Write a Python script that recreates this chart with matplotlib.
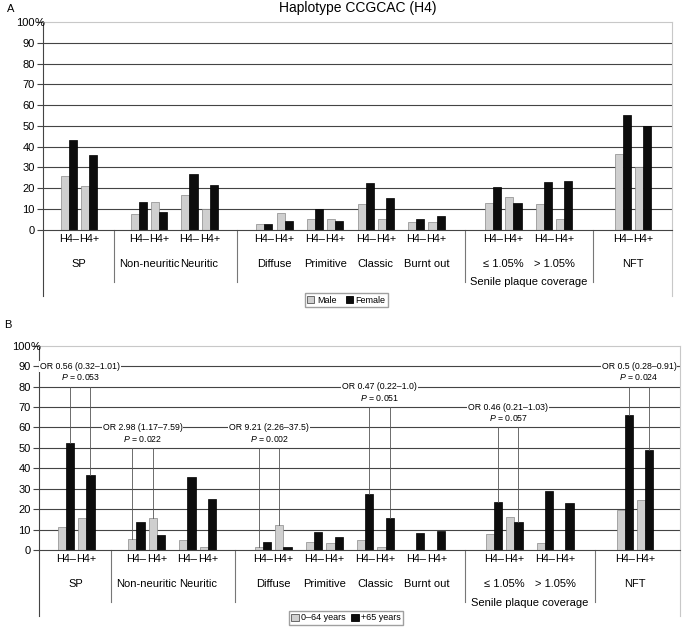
import numpy as np
import matplotlib
matplotlib.use("Agg")
import matplotlib.pyplot as plt
from matplotlib.patches import Patch
from matplotlib.transforms import ScaledTranslation

plt.rcParams["font.family"] = ["Liberation Sans", "DejaVu Sans"]
plt.rcParams["mathtext.fontset"] = "custom"
plt.rcParams["mathtext.it"] = "Liberation Sans:italic"
plt.rcParams["mathtext.rm"] = "Liberation Sans"

# category structure: groups -> subgroups, each with H4- / H4+
groups = [["SP"], ["Non-neuritic", "Neuritic"],
          ["Diffuse", "Primitive", "Classic", "Burnt out"],
          ["≤ 1.05%", "> 1.05%"], ["NFT"]]
group_gaps = [2.45, 2.7, 2.8, 2.9]   # spacing H4+ -> next group's H4-
haplo = ["H4–", "H4+"]
top_group_label = {3: "Senile plaque coverage"}

# panel A (percent), order: SP-, SP+, NonN-, NonN+, Neur-, Neur+, Diff-, Diff+, Prim-, Prim+,
# Class-, Class+, Burnt-, Burnt+, <=-, <=+, >-, >+, NFT-, NFT+
male = [26.0, 21.2, 7.5, 13.6, 16.7, 10.0, 2.7, 8.0, 5.0, 5.1,
        12.5, 5.1, 4.0, 4.0, 12.8, 15.9, 12.5, 5.1, 36.6, 30.0]
female = [43.0, 36.1, 13.3, 8.5, 27.1, 21.8, 3.0, 4.3, 10.0, 4.3,
          22.6, 15.2, 5.0, 6.6, 20.4, 12.7, 22.8, 23.6, 55.4, 49.8]

# panel B (percent)
young = [11.1, 15.8, 5.4, 15.8, 4.9, 1.6, 1.5, 12.4, 3.9, 3.3,
         4.9, 1.6, 0.0, 0.0, 7.7, 16.0, 3.4, 0.0, 19.6, 24.5]
old = [52.2, 36.9, 14.0, 7.5, 35.9, 25.0, 4.2, 1.6, 9.1, 6.4,
       27.6, 15.8, 8.6, 9.5, 23.5, 13.9, 28.9, 23.2, 65.9, 49.0]

# odds-ratio annotations in panel B
ann_cat = ["SP", "Non-neuritic", "Diffuse", "Classic", "≤ 1.05%", "NFT"]
ann_or = ["OR 0.56 (0.32–1.01)", "OR 2.98 (1.17–7.59)", "OR 9.21 (2.26–37.5)",
          "OR 0.47 (0.22–1.0)", "OR 0.46 (0.21–1.03)", "OR 0.5 (0.28–0.91)"]
ann_p = ["0.053", "0.022", "0.002", "0.051", "0.057", "0.024"]
ann_level = [90, 60, 60, 80, 70, 90]
ann_series = ["old", "young", "young", "old", "old", "old"]

# positions
pos, sub_names, sub_pos, group_sep, group_span = [], [], [], [], []
x = 0.0
for gi, g in enumerate(groups):
    start = x
    for si, s in enumerate(g):
        pos += [x, x + 1]
        sub_names.append(s)
        sub_pos.append(x + 0.5)
        x += 2.5 if si < len(g) - 1 else 1
    group_span.append((start, x))
    if gi < len(group_gaps):
        group_sep.append(x + group_gaps[gi] / 2)
        x += group_gaps[gi]
pos = np.array(pos)
w = 0.4
GRAY = "#cfcfcf"
DARK = "#444444"

fig = plt.figure(figsize=(6.83, 6.28), dpi=100)


def draw_panel(ax, s1, s2, xlim, lab_y):
    ax.set_xlim(*xlim)
    ax.set_ylim(0, 100)
    for v in range(10, 100, 10):
        ax.axhline(v, color=DARK, lw=0.8, zorder=0)
    ax.bar(pos - w / 2, s1, w, color=GRAY, edgecolor="#8a8a8a", lw=0.5, zorder=2)
    ax.bar(pos + w / 2, s2, w, color="#0d0d0d", edgecolor="black", lw=0.5, zorder=2)
    ax.spines["top"].set_color("#c8c8c8")
    ax.spines["left"].set_color(DARK)
    ax.spines["bottom"].set_color(DARK)
    ax.spines["right"].set_visible(False)
    ax.set_yticks(range(0, 101, 10))
    ax.set_yticklabels([str(v) for v in range(0, 100, 10)] + ["100"])
    ax.tick_params(axis="y", length=4, color=DARK, labelsize=8, pad=2)
    # "%" hangs after the 100 label, over the tick
    pct_tr = ax.get_yaxis_transform() + ScaledTranslation(-6 / 72, 0, fig.dpi_scale_trans)
    ax.text(0, 100, "%", transform=pct_tr, ha="left", va="center_baseline",
            fontsize=8)
    ax.set_xticks(pos)
    ax.set_xticklabels(haplo * (len(pos) // 2), fontsize=7.8)
    ax.tick_params(axis="x", length=0, pad=3)
    l1, l2, l3, sep_end, ax_end = lab_y
    for name, p in zip(sub_names, sub_pos):
        ax.text(p, l2, name, ha="center", va="center", fontsize=8, clip_on=False)
    for gi, lab in top_group_label.items():
        a, b = group_span[gi]
        ax.text((a + b) / 2, l3, lab, ha="center", va="center", fontsize=8,
                clip_on=False)
    for sx in group_sep:
        ax.plot([sx, sx], [0, sep_end], color="#777777", lw=0.8, clip_on=False)
    ax.plot([xlim[0], xlim[0]], [0, ax_end], color=DARK, lw=0.8, clip_on=False)
    ax.plot([xlim[1], xlim[1]], [100, ax_end], color="#c8c8c8", lw=0.8,
            clip_on=False)


axA = fig.add_axes([0.063, 0.634, 0.921, 0.331])
draw_panel(axA, male, female, (-1.28, 29.78), (-4.8, -16.3, -25, -25, -31.7))
axA.set_title("Haplotype CCGCAC (H4)", fontsize=10, pad=7)
fig.text(0.01, 0.985, "A", fontsize=8, va="center")
fig.legend(handles=[Patch(fc=GRAY, ec="#555555", lw=0.6, label="Male"),
                    Patch(fc="#0d0d0d", ec="black", lw=0.6, label="Female")],
           loc="center", bbox_to_anchor=(0.507, 0.522), ncol=2, fontsize=6.5,
           frameon=True, fancybox=False, edgecolor="#888888", handlelength=0.8,
           handleheight=0.8, handletextpad=0.3, columnspacing=1.0,
           borderpad=0.25, borderaxespad=0)

axB = fig.add_axes([0.057, 0.124, 0.939, 0.3255])
draw_panel(axB, young, old, (-1.32, 30.07), (-4.9, -16.6, -26, -25.5, -32))
fig.text(0.006, 0.482, "B", fontsize=8, va="center")
fig.legend(handles=[Patch(fc=GRAY, ec="#555555", lw=0.6, label="0–64 years"),
                    Patch(fc="#0d0d0d", ec="black", lw=0.6, label="+65 years")],
           loc="center", bbox_to_anchor=(0.507, 0.016), ncol=2, fontsize=6.5,
           frameon=True, fancybox=False, edgecolor="#888888", handlelength=0.8,
           handleheight=0.8, handletextpad=0.3, columnspacing=0.6,
           borderpad=0.25, borderaxespad=0)

series = {"young": (np.array(young), -w / 2), "old": (np.array(old), w / 2)}
for cat, o, p, lev, ser in zip(ann_cat, ann_or, ann_p, ann_level, ann_series):
    i = sub_names.index(cat)
    vals, off = series[ser]
    xs = pos[2 * i:2 * i + 2] + off
    ys = vals[2 * i:2 * i + 2]
    xc = xs.mean()
    axB.text(xc, lev, o, ha="center", va="center", fontsize=6.3, zorder=3,
             bbox=dict(fc="white", ec="none", pad=0.6))
    axB.text(xc, lev - 5.5, "$P$ = " + p, ha="center", va="center",
             fontsize=6.3, zorder=3)
    for xx, yy in zip(xs, ys):
        axB.plot([xx, xx], [lev - 10, yy], color="#555555", lw=0.6, zorder=3)

fig.savefig("out.png", dpi=100)
